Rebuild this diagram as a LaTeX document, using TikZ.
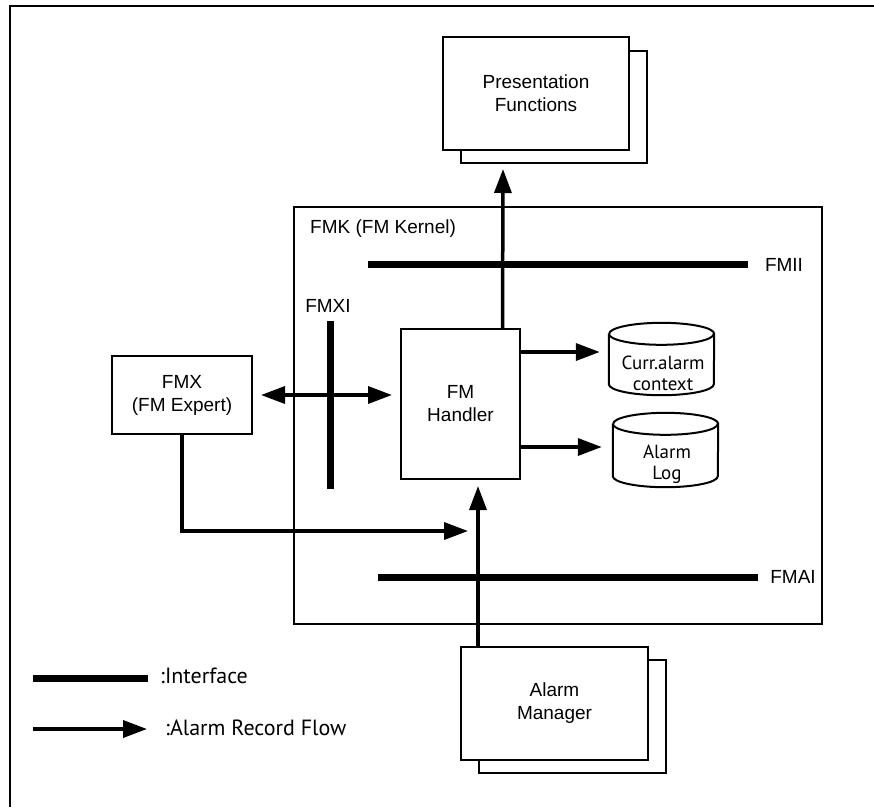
\documentclass[tikz,border=0pt]{standalone}
\usepackage{fontspec}
\setmainfont{Liberation Sans}
\newfontfamily\legendfont{PT Sans}
\usetikzlibrary{arrows.meta,calc}

\tikzset{
  box/.style={draw=black, line width=2pt, fill=white, inner sep=0pt,
              align=center, font=\fontsize{19}{23}\selectfont},
  shadowbox/.style={draw=black, line width=2pt, fill=white},
  flow/.style={line width=3.5pt, -{Triangle[length=24pt,width=17pt]}},
  bothflow/.style={line width=3.5pt, {Triangle[length=24pt,width=17pt]}-{Triangle[length=24pt,width=17pt]}},
  iface/.style={line width=7pt},
  lbl/.style={font=\fontsize{19}{23}\selectfont, inner sep=0pt},
  leglbl/.style={font=\legendfont\fontsize{22}{26}\selectfont, inner sep=0pt, anchor=west},
  store/.style={inner sep=0pt, align=center, font=\legendfont\fontsize{19}{21}\selectfont}
}

\begin{document}
\begin{tikzpicture}[x=1pt,y=-1pt]
\useasboundingbox (0,0) rectangle (874,807);

% outer frame (open at right and bottom)
\draw[line width=2.5pt] (874,6) -- (10,6) -- (10,807);

% Presentation Functions (stacked)
\draw[shadowbox] (461,51) rectangle (647,163);
\node[box, minimum width=186pt, minimum height=113pt] (pres) at (536,93.5) {Presentation\\Functions};
\coordinate (presbot) at (503,163);

% FM kernel frame
\node[draw=black, line width=2pt, minimum width=528pt, minimum height=417pt, inner sep=0pt] (fmk) at (558,415.5) {};
\node[lbl, anchor=west] (fmklbl) at (310,229) {FMK (FM Kernel)};

% interfaces
\draw[iface] (368,264) -- (748,264);
\node[lbl] (fmii) at (784,265) {FMII};
\draw[iface] (378,577) -- (758,577);
\node[lbl] (fmai) at (793,577) {FMAI};
\draw[iface] (330,321) -- (330,489);
\node[lbl] (fmxi) at (328,306) {FMXI};

% FM handler and expert
\node[box, minimum width=119pt, minimum height=150pt] (fmh) at (460.5,404) {FM\\Handler};
\node[box, minimum width=140pt, minimum height=78pt] (fmx) at (182,395) {FMX\\(FM Expert)};

% alarm stores (cylinders)
\node[store, minimum width=105pt, minimum height=72pt] (curr) at (661.5,359) {};
\node[store, minimum width=105pt, minimum height=74pt] (alog) at (665.5,450) {};
\foreach \c in {curr, alog}{
  \draw[line width=2pt, fill=white]
    ($(\c.north west)+(0,11)$) -- ($(\c.south west)+(0,-11)$)
    arc[start angle=180, end angle=360, x radius=52.5pt, y radius=11pt]
    -- ($(\c.north east)+(0,11)$)
    arc[start angle=0, end angle=180, x radius=52.5pt, y radius=11pt];
  \draw[line width=2pt] ($(\c.north west)+(0,11)$)
    arc[start angle=180, end angle=360, x radius=52.5pt, y radius=11pt];
}
\node[store] at (663,373) {Curr.alarm\\context};
\node[store] at (667,464) {Alarm\\Log};

% Alarm Manager (stacked)
\draw[shadowbox] (479,660) rectangle (666,773);
\node[box, minimum width=187pt, minimum height=113pt] (am) at (554.5,703.5) {Alarm\\Manager};

% alarm record flows
\coordinate (merge) at (478,531);
\draw[flow] ([xshift=42pt]fmh.north) -- ([yshift=-6pt]presbot);
\draw[bothflow, shorten <=8pt, shorten >=8pt] (fmx.east) -- (fmh.west |- fmx.east);
\draw[flow, shorten >=9pt] ([yshift=7pt]fmh.east |- curr.west) -- ([yshift=7pt]curr.west);
\draw[flow, shorten >=11pt] ([yshift=3pt]fmh.east |- alog.west) -- ([yshift=3pt]alog.west);
\draw[flow, shorten >=10pt] (fmx.south) |- (merge);
\draw[flow, shorten >=6pt] (am.north -| merge) -- (fmh.south -| merge);

% legend
\draw[iface] (33,678) coordinate (li1) -- (148,678) coordinate (li2);
\node[leglbl] (lgi) at (160,676) {:Interface};
\coordinate (lf1) at (33,729);
\coordinate (lf2) at (147,729);
\draw[flow] (lf1) -- (lf2);
\node[leglbl] (lgf) at (165,728) {:Alarm Record Flow};
\end{tikzpicture}
\end{document}
